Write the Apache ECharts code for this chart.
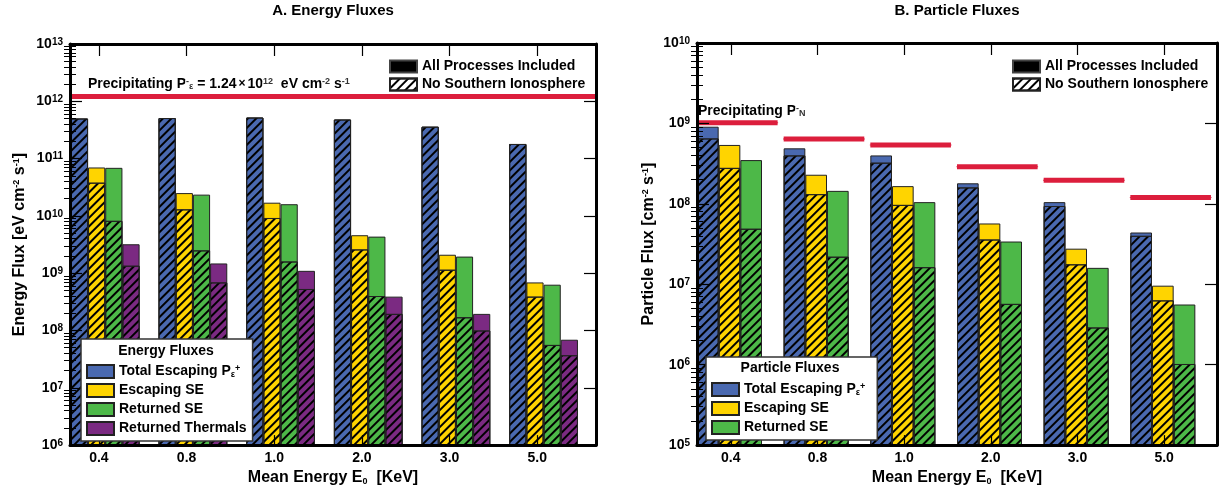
<!DOCTYPE html>
<html>
<head>
<meta charset="utf-8">
<script src="https://cdn.jsdelivr.net/npm/echarts@6.0.0/dist/echarts.min.js"></script>
<style>
  html, body { margin: 0; padding: 0; background: #fff; }
  #main { width: 1225px; height: 491px; }
</style>
</head>
<body>
<div id="main"></div>
<script>
// categories (mean energy E0, keV)
const energyCats = ['0.4', '0.8', '1.0', '2.0', '3.0', '5.0'];

// A. energy fluxes [eV cm-2 s-1] - all processes / no southern ionosphere
const eTotalAll = [5.0e11, 5.1e11, 5.2e11, 4.8e11, 3.6e11, 1.8e11];
const eTotalNoS = [5.0e11, 5.1e11, 5.2e11, 4.8e11, 3.6e11, 1.8e11];
const eEscAll = [7.0e10, 2.5e10, 1.7e10, 4.6e9, 2.1e9, 6.9e8];
const eEscNoS = [3.8e10, 1.3e10, 9.2e9, 2.6e9, 1.15e9, 3.9e8];
const eRetAll = [6.9e10, 2.35e10, 1.6e10, 4.35e9, 1.95e9, 6.3e8];
const eRetNoS = [8.2e9, 2.5e9, 1.6e9, 4.0e8, 1.7e8, 5.6e7];
const eThermAll = [3.2e9, 1.48e9, 1.1e9, 3.9e8, 1.95e8, 6.9e7];
const eThermNoS = [1.35e9, 6.9e8, 5.3e8, 1.95e8, 1.0e8, 3.7e7];
const ePrecip = 1.24e12;

// B. particle fluxes [cm-2 s-1]
const pTotalAll = [9.1e8, 4.9e8, 4.0e8, 1.8e8, 1.05e8, 4.4e7];
const pTotalNoS = [6.5e8, 4.0e8, 3.25e8, 1.6e8, 9.4e7, 4.0e7];
const pEscAll = [5.4e8, 2.3e8, 1.66e8, 5.7e7, 2.77e7, 9.6e6];
const pEscNoS = [2.8e8, 1.32e8, 9.7e7, 3.6e7, 1.77e7, 6.3e6];
const pRetAll = [3.5e8, 1.45e8, 1.05e8, 3.4e7, 1.6e7, 5.6e6];
const pRetNoS = [4.9e7, 2.2e7, 1.63e7, 5.7e6, 2.9e6, 1.02e6];
const pPrecip = [1.02e9, 6.4e8, 5.4e8, 2.9e8, 1.96e8, 1.2e8];

// tick labels (decade exponents)
const eDecades = [6, 7, 8, 9, 10, 11, 12, 13];
const pDecades = [5, 6, 7, 8, 9, 10];

const FONT = 'Liberation Sans';
const RED = '#dc1e3c';
const COLORS = { blue: '#4a69b0', yellow: '#ffd400', green: '#4db848', purple: '#7b2a82' };

const hatch = {
    symbol: 'rect',
    symbolSize: 1,
    color: '#000',
    dashArrayX: [1, 0],
    dashArrayY: [1.2, 3.6],
    rotation: -Math.PI / 4
};

const supRich = {
    sup: { fontSize: 9, fontWeight: 'bold', fontFamily: FONT, verticalAlign: 'top', lineHeight: 9 },
    sub: { fontSize: 9, fontWeight: 'bold', fontFamily: FONT, verticalAlign: 'bottom', lineHeight: 9, padding: [6, 0, 0, 0] }
};

const off = { axisLine: { show: false }, axisTick: { show: false }, axisLabel: { show: false }, splitLine: { show: false } };

function minorTicks(decades) {
    const out = [];
    for (let i = 0; i < decades.length - 1; i++) {
        for (let k = 2; k <= 9; k++) out.push(decades[i] + Math.log10(k));
    }
    return out;
}

function ticks(values, length, width) {
    return { show: true, inside: true, length: length, customValues: values, lineStyle: { color: '#000', width: width } };
}

// axes for one panel; visible axes first, the hidden data axes last
// x: [bottom labels, top ticks, category (solid), category (hatched)]
// y: [left labels, left minor, right, right minor, log data axis]
function panelAxes(gi, decades, labelPos, yName, yNameGap) {
    const lo = decades[0], hi = decades[decades.length - 1];
    const frame = { show: true, onZero: false, lineStyle: { color: '#000', width: 3 } };
    const x = [
        {
            type: 'value', gridIndex: gi, position: 'bottom', min: 0, max: 6, z: 6,
            axisLine: frame,
            axisTick: ticks(labelPos, 10, 1.2),
            axisLabel: {
                customValues: labelPos, margin: 6,
                formatter: v => energyCats[Math.floor(v)],
                color: '#000', fontSize: 14, fontWeight: 'bold', fontFamily: FONT
            },
            splitLine: { show: false },
            name: 'Mean Energy E{sub|0}  [KeV]', nameLocation: 'middle', nameGap: 21,
            nameTextStyle: { color: '#000', fontSize: 16, fontWeight: 'bold', fontFamily: FONT, rich: supRich }
        },
        {
            type: 'value', gridIndex: gi, position: 'top', min: 0, max: 6, z: 6,
            axisLine: frame,
            axisTick: ticks(labelPos, 12, 1.2),
            axisLabel: { show: false },
            splitLine: { show: false }
        },
        Object.assign({ type: 'category', gridIndex: gi, position: 'bottom', data: energyCats }, off),
        Object.assign({ type: 'category', gridIndex: gi, position: 'bottom', data: energyCats }, off)
    ];
    const minors = minorTicks(decades);
    const y = [
        {
            type: 'value', gridIndex: gi, position: 'left', min: lo, max: hi, z: 6,
            axisLine: frame,
            axisTick: ticks(decades, 12, 1.2),
            axisLabel: {
                customValues: decades, margin: 7,
                formatter: v => '{b|10}{s|' + v + '}',
                rich: {
                    b: { fontSize: 14, fontWeight: 'bold', fontFamily: FONT, color: '#000' },
                    s: { fontSize: 10, fontWeight: 'bold', fontFamily: FONT, color: '#000', verticalAlign: 'top', lineHeight: 10 }
                }
            },
            splitLine: { show: false },
            name: yName, nameLocation: 'middle', nameGap: yNameGap, nameRotate: 90,
            nameTextStyle: { color: '#000', fontSize: 16, fontWeight: 'bold', fontFamily: FONT, rich: supRich }
        },
        {
            type: 'value', gridIndex: gi, position: 'left', min: lo, max: hi, z: 6,
            axisLine: { show: false },
            axisTick: ticks(minors, 6, 1),
            axisLabel: { show: false }, splitLine: { show: false }
        },
        {
            type: 'value', gridIndex: gi, position: 'right', min: lo, max: hi, z: 6,
            axisLine: frame,
            axisTick: ticks(decades, 12, 1.2),
            axisLabel: { show: false }, splitLine: { show: false }
        },
        {
            type: 'value', gridIndex: gi, position: 'right', min: lo, max: hi, z: 6,
            axisLine: { show: false },
            axisTick: ticks(minors, 6, 1),
            axisLabel: { show: false }, splitLine: { show: false }
        },
        Object.assign({ type: 'log', gridIndex: gi, position: 'left', min: Math.pow(10, lo), max: Math.pow(10, hi) }, off)
    ];
    return { x, y };
}

// bars for one panel: solid (all processes) on one category axis, hatched on a twin axis drawn on top
function panelBars(xBase, yLog, groups, gap) {
    const out = [];
    groups.forEach(g => {
        out.push({
            type: 'bar', name: g.name, xAxisIndex: xBase, yAxisIndex: yLog,
            data: g.all, barGap: 0, barCategoryGap: gap, z: 2,
            itemStyle: { color: g.color, borderColor: '#222', borderWidth: 1 }
        });
    });
    out.push({
        type: 'bar', name: 'All Processes Included', xAxisIndex: xBase, yAxisIndex: yLog,
        data: [], barGap: 0, barCategoryGap: gap,
        itemStyle: { color: '#000', borderColor: '#444', borderWidth: 1 }
    });
    groups.forEach(g => {
        out.push({
            type: 'bar', name: g.name + ' (no southern ionosphere)', xAxisIndex: xBase + 1, yAxisIndex: yLog,
            data: g.nos, barGap: 0, barCategoryGap: gap, z: 3,
            itemStyle: { color: g.color, borderColor: '#222', borderWidth: 1, decal: hatch }
        });
    });
    out.push({
        type: 'bar', name: 'No Southern Ionosphere', xAxisIndex: xBase + 1, yAxisIndex: yLog,
        data: [], barGap: 0, barCategoryGap: gap,
        itemStyle: { color: '#fff', borderColor: '#222', borderWidth: 1, decal: hatch }
    });
    return out;
}

const axesA = panelAxes(0, eDecades, [0.33, 1.33, 2.33, 3.33, 4.33, 5.33],
    'Energy Flux [eV cm{sup|-2} s{sup|-1}]', 42);
const axesB = panelAxes(1, pDecades, [0.39, 1.39, 2.39, 3.39, 4.39, 5.39],
    'Particle Flux [cm{sup|-2} s{sup|-1}]', 40);

const barsA = panelBars(2, 4, [
    { name: 'Total Escaping', color: COLORS.blue, all: eTotalAll, nos: eTotalNoS },
    { name: 'Escaping SE', color: COLORS.yellow, all: eEscAll, nos: eEscNoS },
    { name: 'Returned SE', color: COLORS.green, all: eRetAll, nos: eRetNoS },
    { name: 'Returned Thermals', color: COLORS.purple, all: eThermAll, nos: eThermNoS }
], '2%');
const barsB = panelBars(6, 9, [
    { name: 'Total Escaping', color: COLORS.blue, all: pTotalAll, nos: pTotalNoS },
    { name: 'Escaping SE', color: COLORS.yellow, all: pEscAll, nos: pEscNoS },
    { name: 'Returned SE', color: COLORS.green, all: pRetAll, nos: pRetNoS }
], '0%');

// precipitating flux line (panel A) as a markLine on the first bar series
barsA[0].markLine = {
    silent: true, symbol: 'none', animation: false,
    lineStyle: { color: RED, width: 5, type: 'solid' },
    data: [{ yAxis: ePrecip }],
    label: {
        show: true, position: 'insideStartTop', distance: [18, 5],
        formatter: '{t|Precipitating P}{sup|-}{sub|ε}{t| = 1.24}{x|×}{t|10}{sup|12}{t|  eV cm}{sup|-2}{t| s}{sup|-1}',
        rich: Object.assign({
            t: { fontSize: 14, fontWeight: 'bold', fontFamily: FONT, color: '#000' },
            x: { fontSize: 12, fontWeight: 'bold', fontFamily: FONT, color: '#000', padding: [0, 2, 0, 2] }
        }, supRich)
    }
};

// precipitating flux segments (panel B), one per energy band
const precipB = pPrecip.map((v, i) => ({
    type: 'line', name: 'Precipitating', xAxisIndex: 4, yAxisIndex: 9,
    data: [
        i === 0 ? {
            value: [i, v],
            label: {
                show: true, position: 'top', align: 'left', distance: 4, offset: [1, 0],
                formatter: '{t|Precipitating P}{sup|-}{sub|N}',
                rich: Object.assign({ t: { fontSize: 14, fontWeight: 'bold', fontFamily: FONT, color: '#000' } }, supRich)
            }
        } : [i, v],
        [i + 0.93, v]
    ],
    symbol: 'rect', symbolSize: 1, showSymbol: true, silent: true, z: 4,
    itemStyle: { color: RED },
    lineStyle: { color: RED, width: 5 }
}));

const legendText = { color: '#000', fontSize: 14, fontWeight: 'bold', fontFamily: FONT, lineHeight: 15, rich: supRich };
const escFormatter = name => name === 'Total Escaping' ? 'Total Escaping P{sub|ε}{sup|+}' : name;

const chart = echarts.init(document.getElementById('main'));
chart.setOption({
    animation: false,
    backgroundColor: '#fff',
    title: [
        { text: 'A. Energy Fluxes', left: 333, top: 3, padding: 0, textAlign: 'center',
          textStyle: { fontSize: 15, fontWeight: 'bold', fontFamily: FONT, color: '#000' } },
        { text: 'B. Particle Fluxes', left: 957, top: 3, padding: 0, textAlign: 'center',
          textStyle: { fontSize: 15, fontWeight: 'bold', fontFamily: FONT, color: '#000' } },
        { text: 'Energy Fluxes', left: 166, top: 344, padding: 0, textAlign: 'center', z: 10,
          textStyle: { fontSize: 14, fontWeight: 'bold', fontFamily: FONT, color: '#000' } },
        { text: 'Particle Fluxes', left: 790, top: 361, padding: 0, textAlign: 'center', z: 10,
          textStyle: { fontSize: 14, fontWeight: 'bold', fontFamily: FONT, color: '#000' } }
    ],
    legend: [
        { left: 389, top: 59, orient: 'vertical', padding: 0, itemGap: 3, itemWidth: 27, itemHeight: 12,
          icon: 'rect', selectedMode: false, textStyle: legendText,
          data: ['All Processes Included', 'No Southern Ionosphere'] },
        { left: 1012, top: 59, orient: 'vertical', padding: 0, itemGap: 3, itemWidth: 27, itemHeight: 12,
          icon: 'rect', selectedMode: false, textStyle: legendText,
          data: ['All Processes Included', 'No Southern Ionosphere'] },
        { left: 81, top: 339, orient: 'vertical', padding: [25, 6, 5, 5], itemGap: 4, itemWidth: 27, itemHeight: 13,
          icon: 'rect', selectedMode: false, backgroundColor: '#fff', borderColor: '#333', borderWidth: 1.5,
          textStyle: legendText, formatter: escFormatter, z: 8,
          data: ['Total Escaping', 'Escaping SE', 'Returned SE', 'Returned Thermals'] },
        { left: 706, top: 357, orient: 'vertical', padding: [25, 12, 5, 5], itemGap: 4, itemWidth: 27, itemHeight: 13,
          icon: 'rect', selectedMode: false, backgroundColor: '#fff', borderColor: '#333', borderWidth: 1.5,
          textStyle: legendText, formatter: escFormatter, z: 8,
          data: ['Total Escaping', 'Escaping SE', 'Returned SE'] }
    ],
    grid: [
        { left: 70, right: 629, top: 44, bottom: 43 },
        { left: 697, right: 8, top: 43, bottom: 44 }
    ],
    xAxis: axesA.x.concat(axesB.x),
    yAxis: axesA.y.concat(axesB.y),
    series: barsA.concat(barsB, precipB)
});
</script>
</body>
</html>
